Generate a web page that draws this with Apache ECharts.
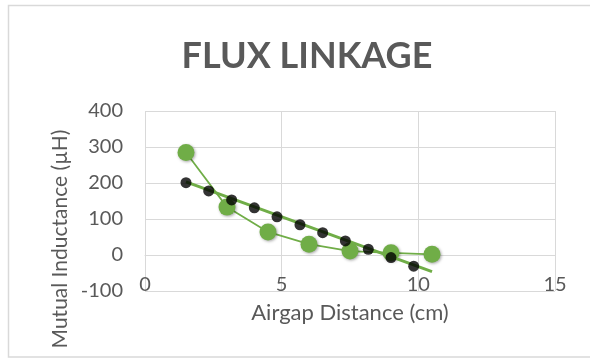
<!DOCTYPE html>
<html><head><meta charset="utf-8">
<script src="https://cdn.jsdelivr.net/npm/echarts@6/dist/echarts.min.js"></script>
<style>html,body{margin:0;padding:0;background:#fff}#c{width:590px;height:358px}</style>
</head><body><div id="c"></div>
<script>
// Data
const greenX = [1.5, 3, 4.5, 6, 7.5, 9, 10.5];
const greenY = [285, 133, 64, 30, 11, 6, 2];
const blackX = [1.5, 2.33, 3.17, 4, 4.83, 5.67, 6.5, 7.33, 8.17, 9, 9.83];
const blackY = [201, 178, 153, 131, 106, 84, 62, 39, 16, -7, -31];
const trendX = [1.5, 10.5];
const trendY = [203, -46];
const xTicks = [0, 5, 10, 15];
const yTicks = [-100, 0, 100, 200, 300, 400];

const zip = (a, b) => a.map((v, i) => [v, b[i]]);
const FONT = 'Lato';
const TXT = '#595959';
const GRID = '#d9d9d9';
const GREEN = '#70AD47';

const chart = echarts.init(document.getElementById('c'), null, {renderer: 'canvas'});
chart.setOption({
  animation: false,
  backgroundColor: '#fff',
  title: {
    text: 'FLUX LINKAGE', left: 302, top: 33, textAlign: 'center',
    textStyle: {fontFamily: FONT, fontWeight: 'bold', fontSize: 36, color: TXT}
  },
  grid: {left: 145, right: 35, top: 111, bottom: 67},
  xAxis: {
    type: 'value', min: xTicks[0], max: xTicks[xTicks.length - 1], interval: 5,
    axisLine: {show: true, lineStyle: {color: GRID, width: 1}},
    axisTick: {show: false},
    splitLine: {show: true, lineStyle: {color: GRID, width: 1}},
    axisLabel: {margin: -16, fontFamily: FONT, fontSize: 20, color: TXT}
  },
  yAxis: {
    type: 'value', min: yTicks[0], max: yTicks[yTicks.length - 1], interval: 100,
    axisLine: {show: false},
    axisTick: {show: false},
    splitLine: {show: true, lineStyle: {color: GRID, width: 1}},
    axisLabel: {margin: 22, fontFamily: FONT, fontSize: 20, color: TXT}
  },
  graphic: [
    {type: 'rect', shape: {x: 8.5, y: 5.5, width: 620, height: 351.5},
     style: {fill: null, stroke: GRID, lineWidth: 1.5}, z: -1, silent: true},
    {type: 'text', x: 350, y: 313,
     style: {text: 'Airgap Distance (cm)', font: '22px ' + FONT, fill: TXT, textAlign: 'center', textVerticalAlign: 'middle'}},
    {type: 'text', x: 60, y: 239, rotation: Math.PI / 2,
     style: {text: 'Mutual Inductance (µH)', font: '21px ' + FONT, fill: TXT, textAlign: 'center', textVerticalAlign: 'middle'}}
  ],
  series: [
    {type: 'line', data: zip(greenX, greenY), symbol: 'circle', symbolSize: 17,
     lineStyle: {color: GREEN, width: 1.75},
     itemStyle: {color: GREEN, shadowBlur: 3, shadowColor: 'rgba(0,0,0,0.35)', shadowOffsetX: 1, shadowOffsetY: 1},
     z: 2},
    {type: 'line', data: zip(trendX, trendY), symbol: 'none',
     lineStyle: {color: GREEN, width: 3}, z: 3},
    {type: 'scatter', data: zip(blackX, blackY), symbol: 'circle', symbolSize: 11,
     itemStyle: {color: '#000'}, z: 4}
  ]
});
</script></body></html>
